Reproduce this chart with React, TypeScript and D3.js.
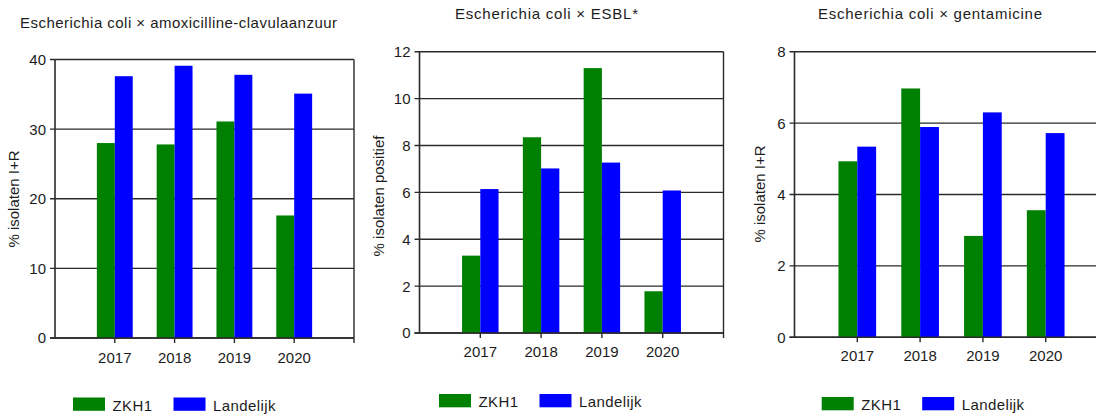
import * as d3 from "d3";
import { useEffect, useRef } from "react";

// values
const years = [2017, 2018, 2019, 2020];
const seriesNames = ["ZKH1", "Landelijk"];
const seriesColors = ["#008000", "#0000ff"];

const amoxZKH1 = [28.0, 27.8, 31.1, 17.6];
const amoxLandelijk = [37.6, 39.1, 37.8, 35.1];
const esblZKH1 = [3.3, 8.35, 11.3, 1.78];
const esblLandelijk = [6.14, 7.02, 7.27, 6.08];
const gentaZKH1 = [4.93, 6.97, 2.84, 3.56];
const gentaLandelijk = [5.34, 5.89, 6.3, 5.72];

const titles = [
  "Escherichia coli × amoxicilline-clavulaanzuur",
  "Escherichia coli × ESBL*",
  "Escherichia coli × gentamicine",
];
const yLabels = ["% isolaten I+R", "% isolaten positief", "% isolaten I+R"];
const yTicks = [
  [0, 10, 20, 30, 40],
  [0, 2, 4, 6, 8, 10, 12],
  [0, 2, 4, 6, 8],
];

// panel geometry (page pixels)
const panels = [
  {
    z: amoxZKH1, l: amoxLandelijk,
    left: 55, right: 354, bottom: 338, top: 59.5,
    titleX: 20, titleY: 27.5, titleW: 317,
    yLabX: 14, yLabY: 199,
    yearY: 362.5,
    legX: 73, legY: 397.5,
  },
  {
    z: esblZKH1, l: esblLandelijk,
    left: 419.5, right: 723.5, bottom: 333, top: 51.7,
    titleX: 455, titleY: 18.5, titleW: 183,
    yLabX: 378.5, yLabY: 196,
    yearY: 357,
    legX: 439, legY: 394,
  },
  {
    z: gentaZKH1, l: gentaLandelijk,
    left: 794.5, right: 1108.5, bottom: 337.3, top: 51.7,
    titleX: 818, titleY: 19, titleW: 224,
    yLabX: 760, yLabY: 194,
    yearY: 361,
    legX: 821.7, legY: 397,
  },
];

const FONT = "Arial, 'Liberation Sans', sans-serif";
const INK = "#1c1c1c";

export default function App() {
  const ref = useRef<SVGSVGElement>(null);

  useEffect(() => {
    const svg = d3.select(ref.current);
    svg.selectAll("*").remove();

    panels.forEach((p, i) => {
      const g = svg.append("g");
      const ticks = yTicks[i];
      const yMax = ticks[ticks.length - 1];

      const x = d3.scaleLinear().domain([2016, 2021]).range([p.left, p.right]);
      const y = d3.scaleLinear().domain([0, yMax]).range([p.bottom, p.top]);
      const bw = (x(2017) - x(2016)) * 0.3;

      // horizontal grid lines
      g.selectAll(".grid")
        .data(ticks)
        .enter()
        .append("line")
        .attr("x1", p.left - 5)
        .attr("x2", p.right)
        .attr("y1", (d) => y(d))
        .attr("y2", (d) => y(d))
        .attr("stroke", "#2a2a2a")
        .attr("stroke-width", 1.4);

      // y tick labels
      g.selectAll(".ylab")
        .data(ticks)
        .enter()
        .append("text")
        .attr("x", p.left - 9)
        .attr("y", (d) => y(d))
        .attr("dy", "0.36em")
        .attr("text-anchor", "end")
        .attr("font-family", FONT)
        .attr("font-size", 15)
        .attr("fill", INK)
        .text((d) => d);

      // bars
      const series = [p.z, p.l];
      series.forEach((vals, s) => {
        g.selectAll(".bar" + s)
          .data(years)
          .enter()
          .append("rect")
          .attr("x", (d) => (s === 0 ? x(d) - bw : x(d)))
          .attr("y", (d, k) => y(vals[k]))
          .attr("width", bw)
          .attr("height", (d, k) => p.bottom - y(vals[k]))
          .attr("fill", seriesColors[s]);
      });

      // frame: left axis, right edge, x axis
      g.append("line")
        .attr("x1", p.left).attr("x2", p.left)
        .attr("y1", p.top).attr("y2", p.bottom)
        .attr("stroke", "#2a2a2a").attr("stroke-width", 1.6);
      g.append("line")
        .attr("x1", p.right).attr("x2", p.right)
        .attr("y1", p.top).attr("y2", p.bottom + 5)
        .attr("stroke", "#2a2a2a").attr("stroke-width", 1.4);
      g.append("line")
        .attr("x1", p.left - 5).attr("x2", p.right)
        .attr("y1", p.bottom).attr("y2", p.bottom)
        .attr("stroke", "#2a2a2a").attr("stroke-width", 1.6);

      // x ticks and year labels
      g.selectAll(".xt")
        .data(years)
        .enter()
        .append("line")
        .attr("x1", (d) => x(d)).attr("x2", (d) => x(d))
        .attr("y1", p.bottom).attr("y2", p.bottom + 5)
        .attr("stroke", "#2a2a2a").attr("stroke-width", 1.4);
      g.selectAll(".xl")
        .data(years)
        .enter()
        .append("text")
        .attr("x", (d) => x(d))
        .attr("y", p.yearY)
        .attr("text-anchor", "middle")
        .attr("font-family", FONT)
        .attr("font-size", 15)
        .attr("fill", INK)
        .text((d) => d);

      // title
      g.append("text")
        .attr("x", p.titleX)
        .attr("y", p.titleY)
        .attr("font-family", FONT)
        .attr("font-size", 15)
        .attr("textLength", p.titleW)
        .attr("lengthAdjust", "spacing")
        .attr("fill", INK)
        .text(titles[i]);

      // y axis label
      g.append("text")
        .attr("transform", `translate(${p.yLabX},${p.yLabY}) rotate(-90)`)
        .attr("text-anchor", "middle")
        .attr("dy", "0.35em")
        .attr("font-family", FONT)
        .attr("font-size", 15)
        .attr("fill", INK)
        .text(yLabels[i]);

      // legend
      const offs = [0, 100.5];
      seriesNames.forEach((name, s) => {
        g.append("rect")
          .attr("x", p.legX + offs[s])
          .attr("y", p.legY)
          .attr("width", 32)
          .attr("height", 13.3)
          .attr("fill", seriesColors[s]);
        g.append("text")
          .attr("x", p.legX + offs[s] + 39.5)
          .attr("y", p.legY + 13.3)
          .attr("font-family", FONT)
          .attr("font-size", 15)
          .attr("letter-spacing", 0.4)
          .attr("fill", INK)
          .text(name);
      });
    });
  }, []);

  return (
    <svg
      ref={ref}
      width={1096}
      height={416}
      style={{ position: "absolute", left: 0, top: 0, background: "#fff" }}
    />
  );
}
